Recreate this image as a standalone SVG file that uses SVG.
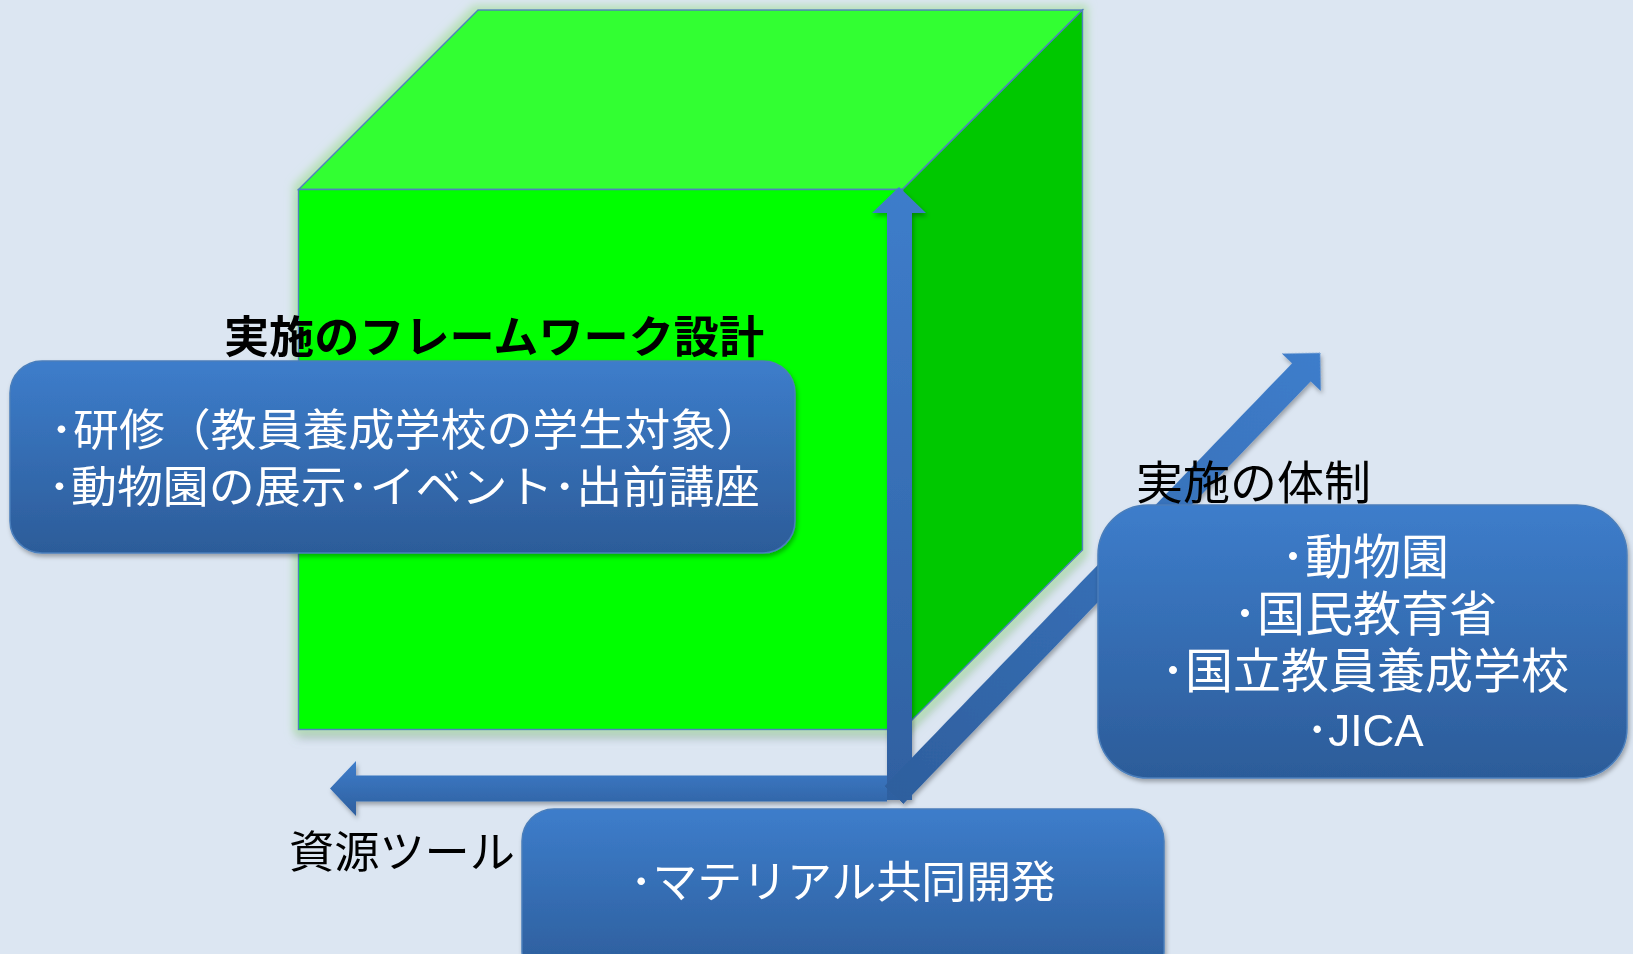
<svg xmlns="http://www.w3.org/2000/svg" width="1633" height="954" viewBox="0 0 1633 954">
<defs>
<style>
.cube{stroke:#4f81bd;stroke-width:1.5;stroke-linejoin:miter}
.box{stroke:#4a7ebb;stroke-width:1.5}
.wt{fill:#ffffff;font-family:"Noto Sans CJK JP","Noto Sans",sans-serif}
.wt2{fill:#ffffff;font-family:"Liberation Sans","Noto Sans CJK JP",sans-serif}
.bk{fill:#000000;font-family:"Noto Sans CJK JP","Noto Sans",sans-serif}
</style>
<linearGradient id="boxg" x1="0" y1="0" x2="0" y2="1">
<stop offset="0" stop-color="#3d7dcb"/>
<stop offset="1" stop-color="#2c5c99"/>
</linearGradient>
<linearGradient id="hg" x1="0" y1="0" x2="0" y2="1">
<stop offset="0" stop-color="#3e7dcb"/>
<stop offset="1" stop-color="#2e5f9e"/>
</linearGradient>
<linearGradient id="vg" x1="0" y1="0" x2="0" y2="1">
<stop offset="0" stop-color="#3e7dcb"/>
<stop offset="1" stop-color="#2f60a0"/>
</linearGradient>
<linearGradient id="dg" x1="1" y1="0" x2="0" y2="0">
<stop offset="0" stop-color="#3e7dcb"/>
<stop offset="1" stop-color="#2e5f9e"/>
</linearGradient>
<filter id="glow" x="-10%" y="-10%" width="120%" height="125%">
<feOffset in="SourceAlpha" dy="8" result="o"/>
<feGaussianBlur in="o" stdDeviation="5" result="ob"/>
<feFlood flood-color="#8a96a6" flood-opacity="0.55"/>
<feComposite in2="ob" operator="in" result="sh"/>
<feMorphology in="SourceAlpha" operator="dilate" radius="4" result="d"/>
<feGaussianBlur in="d" stdDeviation="4" result="b"/>
<feFlood flood-color="#b6e0b6"/>
<feComposite in2="b" operator="in" result="g"/>
<feMerge><feMergeNode in="sh"/><feMergeNode in="g"/><feMergeNode in="SourceGraphic"/></feMerge>
</filter>
<filter id="sh" x="-10%" y="-10%" width="120%" height="130%">
<feDropShadow dx="1.5" dy="3" stdDeviation="2" flood-color="#000000" flood-opacity="0.3"/>
</filter>
</defs>
<rect width="1633" height="954" fill="#dce6f2"/>

<g id="cube" filter="url(#glow)">
<polygon class="cube" points="298.5,189.5 478,10 1082.5,10 902.5,189.5" fill="#33ff33"/>
<polygon class="cube" points="902.5,189.5 1082.5,10 1082.5,550 902.5,729.5" fill="#00c800"/>
<rect class="cube" x="298.5" y="189.5" width="604" height="540" fill="#00ff00"/>
</g>

<g id="connectors" filter="url(#sh)">
<path d="M887,800 L887,213 L872,213 L899,187 L926,213 L912,213 L912,800 Z" fill="url(#vg)"/>
<path d="M887,775.5 L356,775.5 L356,761 L330,788.5 L356,816 L356,801.5 L887,801.5 Z" fill="url(#hg)"/>
<path transform="translate(894,795) rotate(-46.05)" d="M0,-13 L587,-13 L587,-27 L614,0 L587,27 L587,13 L0,13 Z" fill="url(#dg)"/>
</g>

<g id="framework">
<rect class="box" x="10" y="361" width="785" height="192" rx="32" fill="url(#boxg)" filter="url(#sh)"/>
<text class="bk" x="224" y="353" font-size="44" font-weight="bold" textLength="540" lengthAdjust="spacingAndGlyphs">実施のフレームワーク設計</text>
<text class="wt2" font-size="44"><tspan x="50" y="446" textLength="712" lengthAdjust="spacingAndGlyphs">･研修（教員養成学校の学生対象）</tspan><tspan x="48" y="503" textLength="712" lengthAdjust="spacingAndGlyphs">･動物園の展示･イベント･出前講座</tspan></text>
</g>

<g id="organization">
<rect class="box" x="1098" y="505" width="529" height="273" rx="50" fill="url(#boxg)" filter="url(#sh)"/>
<text class="bk" x="1136" y="499" font-size="46" textLength="235" lengthAdjust="spacingAndGlyphs">実施の体制</text>
<text class="wt2" font-size="48" text-anchor="middle"><tspan x="1365" y="574">･動物園</tspan><tspan x="1365" y="631">･国民教育省</tspan><tspan x="1365" y="688">･国立教員養成学校</tspan><tspan x="1365" y="746" font-size="44">･JICA</tspan></text>
</g>

<g id="resources">
<rect class="box" x="522" y="809" width="642" height="175" rx="32" fill="url(#boxg)" filter="url(#sh)"/>
<text class="bk" x="289" y="868" font-size="44" textLength="226" lengthAdjust="spacingAndGlyphs">資源ツール</text>
<text class="wt" x="630" y="898" font-size="44" textLength="426" lengthAdjust="spacingAndGlyphs">･マテリアル共同開発</text>
</g>
</svg>
